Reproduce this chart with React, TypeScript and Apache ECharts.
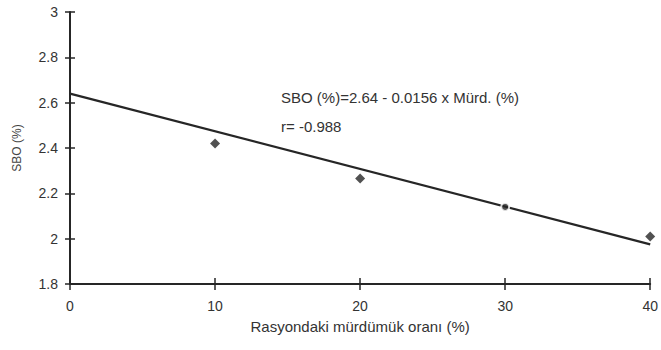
import React, { useEffect, useRef } from "react";
import * as echarts from "echarts";

const xTicks = [0, 10, 20, 30, 40];
const pointX = [10, 20, 30, 40];
const pointY = [2.42, 2.265, 2.14, 2.01];
const pointSize = [10, 10, 8, 10];
const fitX = [0, 40];
const fitY = [2.64, 1.975];
const equationText = "SBO (%)=2.64 - 0.0156 x Mürd. (%)";
const rText = "r= -0.988";
const xTitle = "Rasyondaki mürdümük oranı (%)";
const yTitle = "SBO (%)";

const ink = "#262626";
const font = "Liberation Sans, Arial, sans-serif";

export default function App() {
  const ref = useRef<HTMLDivElement>(null);
  useEffect(() => {
    if (!ref.current) return;
    const chart = echarts.init(ref.current, undefined, { renderer: "svg" });
    const grid = { left: 70, right: 8, top: 12, bottom: 66 };
    chart.setOption({
      animation: false,
      backgroundColor: "#ffffff",
      grid,
      xAxis: [
        {
          type: "value",
          min: 0,
          max: 40,
          interval: 10,
          axisLine: { show: true, onZero: false, lineStyle: { color: ink, width: 2 } },
          axisTick: { show: true, inside: false, length: 6, lineStyle: { color: ink, width: 1.5 } },
          axisLabel: {
            color: "#333",
            fontFamily: font,
            fontSize: 14,
            margin: 15,
            formatter: (v: number) => (xTicks.includes(v) ? String(v) : ""),
          },
          splitLine: { show: false },
          name: xTitle,
          nameLocation: "middle",
          nameGap: 35,
          nameTextStyle: { color: "#333", fontFamily: font, fontSize: 15 },
        },
        {
          type: "value",
          min: 0,
          max: 40,
          interval: 10,
          position: "bottom",
          axisLine: { show: false },
          axisTick: { show: true, inside: true, length: 6, lineStyle: { color: ink, width: 1.5 } },
          axisLabel: { show: false },
          splitLine: { show: false },
        },
      ],
      yAxis: [
        {
          type: "value",
          min: 1.8,
          max: 3,
          interval: 0.2,
          axisLine: { show: true, onZero: false, lineStyle: { color: ink, width: 2 } },
          axisTick: { show: true, inside: false, length: 5, lineStyle: { color: ink, width: 1.5 } },
          axisLabel: {
            color: "#333",
            fontFamily: font,
            fontSize: 14,
            margin: 12,
            formatter: (v: number) => String(Math.round(v * 10) / 10),
          },
          splitLine: { show: false },
          name: yTitle,
          nameLocation: "middle",
          nameGap: 47,
          nameRotate: 90,
          nameTextStyle: { color: "#444", fontFamily: font, fontSize: 12 },
        },
        {
          type: "value",
          min: 1.8,
          max: 3,
          interval: 0.2,
          position: "left",
          axisLine: { show: false },
          axisTick: { show: true, inside: true, length: 5, lineStyle: { color: ink, width: 1.5 } },
          axisLabel: { show: false },
          splitLine: { show: false },
        },
      ],
      series: [
        {
          type: "line",
          data: fitX.map((x, i) => [x, fitY[i]]),
          showSymbol: false,
          symbol: "none",
          lineStyle: { color: ink, width: 2.2 },
          z: 2,
          silent: true,
        },
        {
          type: "scatter",
          data: pointX.map((x, i) => ({
            value: [x, pointY[i]],
            symbolSize: pointSize[i],
            symbol: pointSize[i] < 9 ? "circle" : "diamond",
            itemStyle:
              pointSize[i] < 9
                ? { color: ink, borderColor: "#ffffff", borderWidth: 2 }
                : { color: ink },
          })),
          z: 3,
          silent: true,
        },
      ],
      graphic: [
        {
          type: "text",
          left: 281,
          top: 90,
          style: { text: equationText, fill: "#333", font: `15px ${font}` },
        },
        {
          type: "text",
          left: 281,
          top: 119,
          style: { text: rText, fill: "#333", font: `15px ${font}` },
        },
      ],
    });
    return () => chart.dispose();
  }, []);
  return (
    <div
      ref={ref}
      style={{ position: "absolute", left: 0, top: 0, width: 661, height: 350 }}
    />
  );
}
